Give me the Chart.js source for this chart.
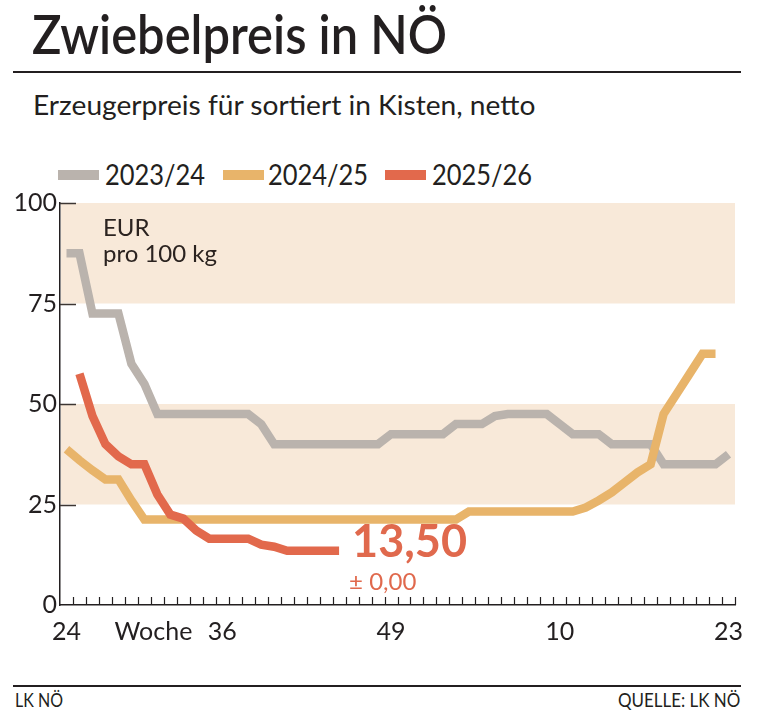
<!DOCTYPE html>
<html>
<head>
<meta charset="utf-8">
<script src="https://cdn.jsdelivr.net/npm/chart.js@4.4.1/dist/chart.umd.min.js"></script>
<style>
  body { margin: 0; background: #fff; width: 757px; height: 728px; position: relative; overflow: hidden;
         font-family: Lato, "Open Sans", sans-serif; color: #231f20; }
  .txt { position: absolute; white-space: nowrap; line-height: 1; transform-origin: 0 0; }
  .rule { position: absolute; left: 13px; width: 728px; background: #231f20; }
  .swatch { position: absolute; top: 170px; width: 41px; height: 10px; }
  #chartWrap { position: absolute; left: 0; top: 185px; }
</style>
</head>
<body>
<div class="txt" data-w="415" style="left:32px; top:7px; font-size:54px; font-weight:600;">Zwiebelpreis in NÖ</div>
<div class="rule" style="top:71px; height:2px;"></div>
<div class="txt" data-w="502" style="left:33px; top:92px; font-size:26px;">Erzeugerpreis für sortiert in Kisten, netto</div>

<div class="swatch" style="left:58px; background:#bab3ad;"></div>
<div class="txt" data-w="100" style="left:105px; top:160px; font-size:28px;">2023/24</div>
<div class="swatch" style="left:223px; background:#e8b46a;"></div>
<div class="txt" data-w="100" style="left:268px; top:160px; font-size:28px;">2024/25</div>
<div class="swatch" style="left:385px; background:#e2694c;"></div>
<div class="txt" data-w="100" style="left:432px; top:160px; font-size:28px;">2025/26</div>

<div id="chartWrap"><canvas id="priceChart" width="757" height="475"></canvas></div>

<div class="rule" style="top:685px; height:2px;"></div>
<div class="txt" data-w="48" style="left:15px; top:689px; font-size:20px;">LK NÖ</div>
<div class="txt" data-w="122" style="left:618px; top:689px; font-size:20px;">QUELLE: LK NÖ</div>

<script>
// Kalenderwochen 24 bis 23 des Folgejahres
const weeks = [24, 25, 26, 27, 28, 29, 30, 31, 32, 33, 34, 35, 36, 37, 38, 39, 40, 41, 42, 43,
               44, 45, 46, 47, 48, 49, 50, 51, 52, 1, 2, 3, 4, 5, 6, 7, 8, 9, 10, 11,
               12, 13, 14, 15, 16, 17, 18, 19, 20, 21, 22, 23];
const labeledWeeks = [24, 36, 49, 10, 23];
const yTicks = [0, 25, 50, 75, 100];

// EUR pro 100 kg
const price2324 = [87.5, 87.5, 72.5, 72.5, 72.5, 60, 55, 47.5, 47.5, 47.5, 47.5, 47.5, 47.5, 47.5,
                   47.5, 45, 40, 40, 40, 40, 40, 40, 40, 40, 40, 42.5, 42.5, 42.5, 42.5, 42.5,
                   45, 45, 45, 47, 47.5, 47.5, 47.5, 47.5, 45, 42.5, 42.5, 42.5, 40, 40, 40,
                   40, 35, 35, 35, 35, 35, 37.5];
const price2425 = [38.75, 36, 33.5, 31.25, 31.25, 26, 21.25, 21.25, 21.25, 21.25, 21.25, 21.25,
                   21.25, 21.25, 21.25, 21.25, 21.25, 21.25, 21.25, 21.25, 21.25, 21.25, 21.25,
                   21.25, 21.25, 21.25, 21.25, 21.25, 21.25, 21.25, 21.25, 23.25, 23.25, 23.25,
                   23.25, 23.25, 23.25, 23.25, 23.25, 23.25, 24.25, 26, 28, 30.5, 33, 35, 47.5,
                   52.5, 57.5, 62.5, 62.5, null];
const price2526 = [null, 57.5, 47, 40, 37, 35, 35, 27.5, 22.5, 21.5, 18.5, 16.5, 16.5, 16.5,
                   16.5, 15, 14.5, 13.5, 13.5, 13.5, 13.5, 13.5];

const ink = "#231f20";
const bandColor = "#f8e9d9";
const bands = [[75, 100], [25, 50]];

// squeeze the headline texts to the widths of the original layout
function fitTexts() {
  document.querySelectorAll("[data-w]").forEach(el => {
    el.style.transform = "none";
    const w = el.offsetWidth;
    el.style.transform = "scaleX(" + (+el.dataset.w / w) + ")";
  });
}
fitTexts();
if (document.fonts) document.fonts.ready.then(fitTexts);

const chartDecor = {
  id: "chartDecor",
  beforeDatasetsDraw(chart) {
    const { ctx, chartArea: a, scales: { x, y } } = chart;
    ctx.save();
    // shaded bands
    ctx.fillStyle = bandColor;
    bands.forEach(([lo, hi]) => {
      const top = y.getPixelForValue(hi), bot = y.getPixelForValue(lo);
      ctx.fillRect(a.left + 1, top, a.right - a.left - 1, bot - top);
    });
    // inward ticks on the y axis
    ctx.strokeStyle = "#3c3633";
    ctx.lineWidth = 1.5;
    yTicks.slice(1).forEach(v => {
      const py = Math.round(y.getPixelForValue(v)) + 0.5;
      ctx.beginPath();
      ctx.moveTo(a.left, py);
      ctx.lineTo(a.left + 16, py);
      ctx.stroke();
    });
    // inward week ticks on the x axis
    ctx.lineWidth = 1.2;
    ctx.strokeStyle = ink;
    for (let k = 1; k <= weeks.length; k++) {
      const px = Math.round(x.getPixelForValue(k - 0.5)) + 0.5;
      ctx.beginPath();
      ctx.moveTo(px, a.bottom);
      ctx.lineTo(px, a.bottom - 8);
      ctx.stroke();
    }
    ctx.restore();
  },
  afterDatasetsDraw(chart) {
    const { ctx, chartArea: a, scales: { x, y } } = chart;
    ctx.save();
    ctx.fillStyle = "#2b2320";
    ctx.font = "24px Lato";
    ctx.textBaseline = "alphabetic";
    ctx.textAlign = "left";
    ctx.fillText("EUR", a.left + 43, y.getPixelForValue(100) + 33);
    ctx.fillText("pro 100 kg", a.left + 43, y.getPixelForValue(100) + 59);

    // axis caption
    ctx.fillStyle = ink;
    ctx.font = "25px Lato";
    ctx.textAlign = "center";
    ctx.fillText("Woche", x.getPixelForValue(6.7), a.bottom + 35);

    // current value of the newest season
    let last = price2526.length - 1;
    while (price2526[last] == null) last--;
    const val = price2526[last];
    const diff = val - price2526[last - 1];
    const px = x.getPixelForValue(last);
    const py = y.getPixelForValue(val);
    ctx.textAlign = "left";
    ctx.fillStyle = "#e0694d";
    ctx.font = "bold 45px Lato";
    ctx.fillText(val.toFixed(2).replace(".", ","), px + 13, py + 6);
    ctx.font = "24px Lato";
    const sign = diff === 0 ? "± " : (diff > 0 ? "+ " : "– ");
    ctx.fillText(sign + Math.abs(diff).toFixed(2).replace(".", ","), px + 10, py + 39);
    ctx.restore();
  }
};

const ctx = document.getElementById("priceChart").getContext("2d");

const lineStyle = { borderWidth: 8.5, pointRadius: 0, tension: 0, borderCapStyle: "butt",
                    borderJoinStyle: "miter", spanGaps: false };

new Chart(ctx, {
  type: "line",
  data: {
    labels: weeks,
    datasets: [
      { label: "2023/24", data: price2324, borderColor: "#bab3ad", order: 3, ...lineStyle },
      { label: "2024/25", data: price2425, borderColor: "#e8b46a", order: 2, ...lineStyle },
      { label: "2025/26", data: price2526, borderColor: "#e2694c", order: 1, ...lineStyle }
    ]
  },
  options: {
    responsive: false,
    animation: false,
    devicePixelRatio: 1,
    layout: { padding: { top: 14, right: 22, left: 0, bottom: 0 } },
    plugins: {
      legend: { display: false },
      tooltip: { enabled: false }
    },
    scales: {
      x: {
        type: "category",
        offset: true,
        grid: { display: false, drawTicks: false },
        border: { color: ink, width: 1.5 },
        ticks: {
          autoSkip: false,
          maxRotation: 0,
          padding: 12,
          color: ink,
          font: { family: "Lato", size: 25 },
          callback: (v, i) => labeledWeeks.includes(weeks[i]) ? String(weeks[i]) : ""
        },
        afterFit: s => { s.height = 55; }
      },
      y: {
        min: 0,
        max: 100,
        grid: { display: false, drawTicks: false },
        border: { color: ink, width: 1.5 },
        ticks: {
          stepSize: 25,
          padding: 3,
          color: ink,
          font: { family: "Lato", size: 25 },
          callback: v => yTicks.includes(v) ? v : ""
        },
        afterFit: s => { s.width = 60; }
      }
    }
  },
  plugins: [chartDecor]
});
</script>
</body>
</html>
